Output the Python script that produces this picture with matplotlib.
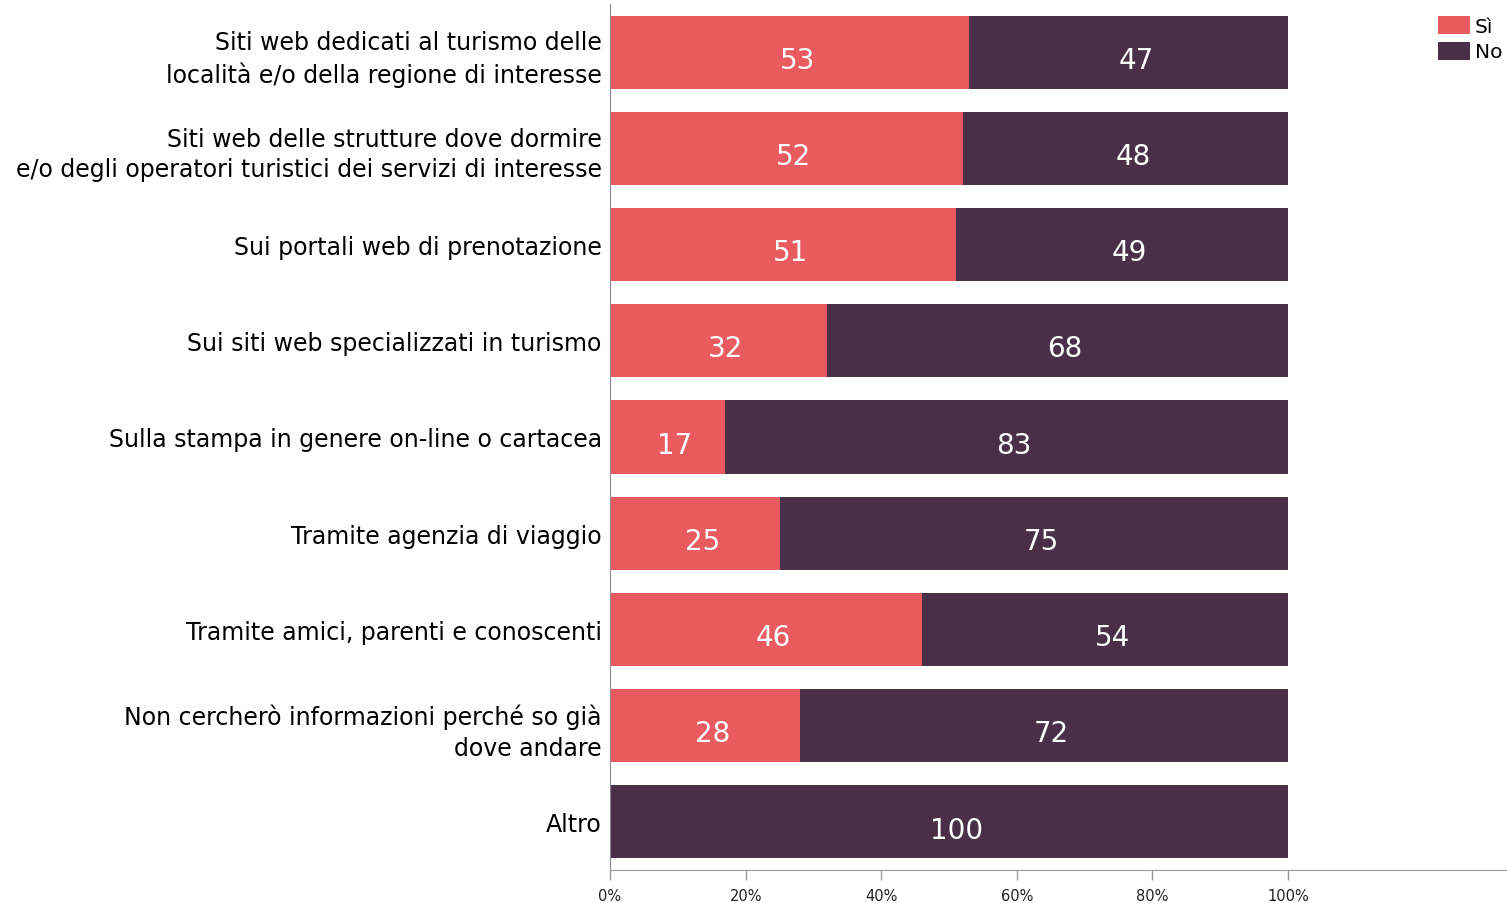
import matplotlib.pyplot as plt
import numpy as np
from matplotlib.patches import Patch

# categorie (dall'alto verso il basso)
categorie = [
    "Siti web dedicati al turismo delle\nlocalità e/o della regione di interesse",
    "Siti web delle strutture dove dormire\ne/o degli operatori turistici dei servizi di interesse",
    "Sui portali web di prenotazione",
    "Sui siti web specializzati in turismo",
    "Sulla stampa in genere on-line o cartacea",
    "Tramite agenzia di viaggio",
    "Tramite amici, parenti e conoscenti",
    "Non cercherò informazioni perché so già\ndove andare",
    "Altro",
]
si = [53, 52, 51, 32, 17, 25, 46, 28, 0]
no = [47, 48, 49, 68, 83, 75, 54, 72, 100]
tick_vals = [0, 20, 40, 60, 80, 100]

col_si = "#E95B5F"
col_no = "#4A2F48"

fig = plt.figure(figsize=(15.07, 9.04), dpi=100)
ax = fig.add_axes([0.4048, 0.0365, 0.5952, 0.958])

y = np.arange(len(categorie))
ax.barh(y, si, height=0.76, color=col_si)
ax.barh(y, no, left=si, height=0.76, color=col_no)

# etichette dei valori (leggermente spostate come nell'originale)
for i in range(len(categorie)):
    if si[i] > 0:
        ax.text(si[i] / 2 + 1.1, y[i] + 0.08, str(si[i]), color="white", fontsize=20,
                ha="center", va="center")
    if no[i] > 0:
        ax.text(si[i] + no[i] / 2 + 1.1, y[i] + 0.08, str(no[i]), color="white", fontsize=20,
                ha="center", va="center")

ax.set_ylim(8.5, -0.5)
ax.set_xlim(0, 132.3)
ax.set_yticks(y)
ax.set_yticklabels(categorie, fontsize=17, ha="right", linespacing=1.35)
ax.tick_params(axis="y", length=0, pad=6)
ax.set_xticks(tick_vals)
ax.set_xticklabels([f"{v}%" for v in tick_vals], fontsize=10.5, color="#222222")
ax.tick_params(axis="x", length=7, color="#999999", width=1, pad=6)

for s in ["top", "right"]:
    ax.spines[s].set_visible(False)
ax.spines["left"].set_color("#888888")
ax.spines["bottom"].set_color("#999999")

handles = [Patch(facecolor=col_si, label="Sì"), Patch(facecolor=col_no, label="No")]
fig.legend(handles=handles, loc="upper right", bbox_to_anchor=(1.005, 0.995), frameon=False,
           fontsize=14.5, handlelength=1.6, handleheight=1.0, handletextpad=0.25,
           labelspacing=0.3, borderaxespad=0.2)

fig.savefig("out.png", dpi=100)
